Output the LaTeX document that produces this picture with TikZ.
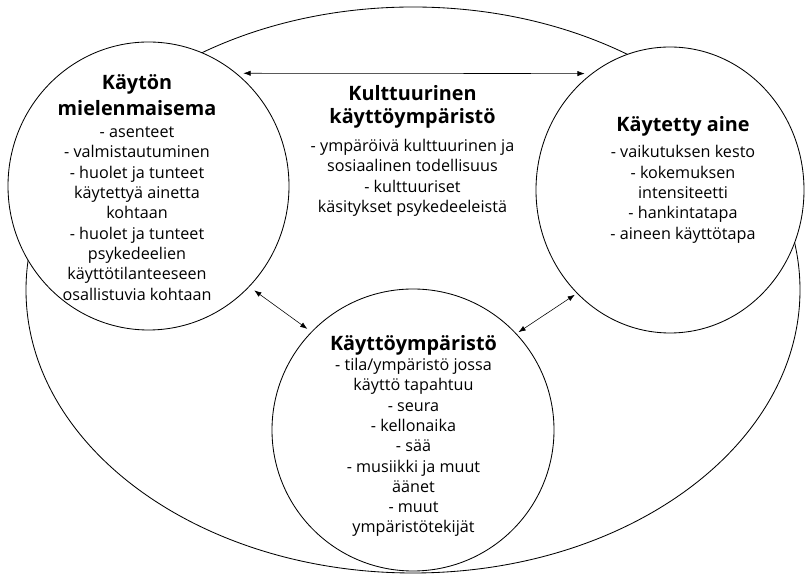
\documentclass[tikz,border=0pt]{standalone}
\usepackage{fontspec}
\setmainfont{Open Sans}
\usepackage{tikz}
\usetikzlibrary{arrows.meta, shapes.geometric, positioning}
\newcommand{\hd}[1]{{\fontsize{14.1pt}{17pt}\selectfont\bfseries #1}}
\tikzset{
    rim/.style   ={draw, ellipse, line width=0.6pt, inner sep=0pt},
    bubble/.style={rim, fill=white},
    txt/.style   ={align=center, inner sep=0pt,
                   font=\fontsize{11.5pt}{14.45pt}\selectfont},
    dar/.style   ={<->, >={Latex[length=1.8mm, width=1.3mm]}, line width=0.4pt}
}

\begin{document}
\begin{tikzpicture}[x=1cm, y=1cm]
  \useasboundingbox (0,0) rectangle (20.25,14.375);

  % ---- cultural setting, the outer ring
  \node[rim, minimum width=19.35cm, minimum height=14.15cm] (kul) at (10.325, 7.125) {};

  % ---- the three circles
  \node[bubble, minimum width=7.025cm, minimum height=7.2cm] (mie) at (3.7125, 9.725) {};
  \node[bubble, minimum width=6.7cm, minimum height=7.15cm]  (ain) at (16.75, 9.625) {};
  \node[bubble, minimum width=7.05cm, minimum height=7.05cm] (ymp) at (10.325, 3.625) {};

  % ---- texts
  \node[txt] (mie-t) at (3.425, 9.6875)
       {\hd{Käytön}\\[4pt] \hd{mielenmaisema}\\[1.2pt]
        - asenteet\\ - valmistautuminen\\ - huolet ja tunteet\\
        käytettyä ainetta\\ kohtaan\\ - huolet ja tunteet\\ psykedeelien\\
        käyttötilanteeseen\\ osallistuvia kohtaan};
  \node[txt] (kul-t) at (10.3125, 10.6)
       {\hd{Kulttuurinen}\\[2pt] \hd{käyttöympäristö}\\[5.4pt]
        - ympäröivä kulttuurinen ja\\ sosiaalinen todellisuus\\
        - kulttuuriset\\ käsitykset psykedeeleistä};
  \node[txt] (ain-t) at (17.075, 9.875)
       {\hd{Käytetty aine}\\[4pt]
        - vaikutuksen kesto\\ - kokemuksen\\ intensiteetti\\
        - hankintatapa\\ - aineen käyttötapa};
  \node[txt] (ymp-t) at (10.3375, 3.475)
       {\hd{Käyttöympäristö}\\
        - tila/ympäristö jossa\\ käyttö tapahtuu\\ - seura\\ - kellonaika\\
        - sää\\ - musiikki ja muut\\ äänet\\ - muut\\ ympäristötekijät};

  % ---- links between the circles
  \draw[dar, shorten <=0.17cm, shorten >=0.17cm] (mie.52) -- (ain.124);
  \draw[dar, shorten <=0.15cm, shorten >=0.12cm] (mie.-45) -- (ymp.136);
  \draw[dar, shorten <=0.06cm, shorten >=0.06cm] (ymp.43) -- (ain.228);
\end{tikzpicture}
\end{document}
